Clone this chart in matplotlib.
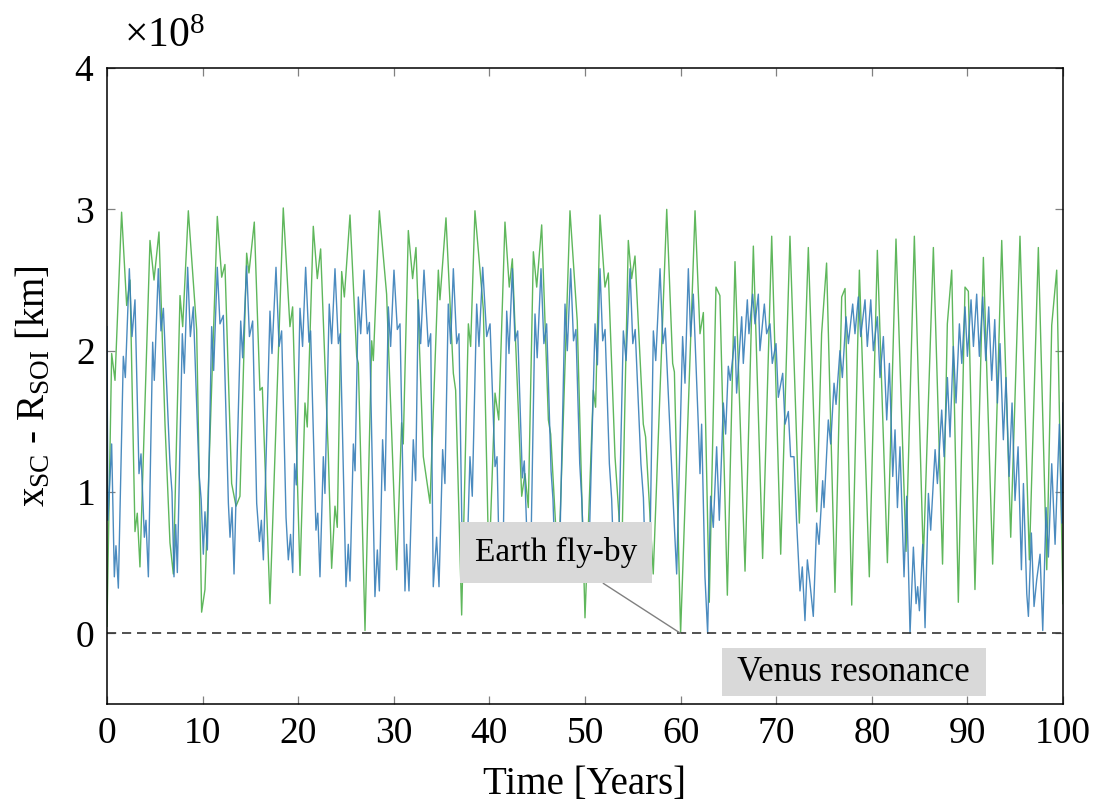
import numpy as np
import matplotlib
matplotlib.use('Agg')
import matplotlib.pyplot as plt
from matplotlib import rcParams
from matplotlib.ticker import ScalarFormatter

# Fonts
rcParams['font.family'] = 'serif'
rcParams['font.serif'] = ['Liberation Serif', 'DejaVu Serif']
rcParams['mathtext.fontset'] = 'custom'
rcParams['mathtext.rm'] = 'Liberation Serif'
rcParams['mathtext.it'] = 'Liberation Serif:italic'
rcParams['font.size'] = 27

# Distance to the SOI boundary, in units of 1e8 km
green_t = [0.0, 0.49, 0.84, 1.53, 2.06, 2.41, 2.93, 3.17, 3.45, 4.50, 4.92, 5.44,
           6.07, 6.59, 6.94, 7.64, 7.92, 8.51, 9.38, 9.90, 10.25, 11.54, 12.00, 12.34,
           13.04, 13.50, 13.91, 14.61, 14.85, 15.41, 16.00, 16.25, 17.05, 18.44, 19.14, 19.42,
           20.19, 20.71, 20.95, 21.58, 22.00, 22.35, 23.15, 23.50, 23.85, 24.09, 24.55, 24.83,
           25.42, 26.12, 26.29, 26.99, 27.69, 27.86, 28.49, 29.25, 30.30, 30.82, 30.99, 31.52,
           31.97, 32.32, 33.09, 33.79, 34.66, 34.83, 35.46, 36.23, 36.47, 37.10, 37.80, 38.04,
           38.49, 39.37, 39.95, 40.59, 40.98, 41.63, 42.08, 42.40, 43.38, 43.72, 44.07, 44.60,
           44.95, 45.47, 46.17, 46.41, 47.21, 48.43, 49.19, 50.00, 50.87, 51.11, 51.57, 52.09,
           52.44, 53.14, 53.84, 54.53, 54.88, 55.23, 56.10, 56.34, 57.14, 58.55, 59.17, 59.35,
           60.00, 61.51, 62.03, 62.38, 63.00, 63.70, 64.11, 64.89, 65.69, 66.74, 67.61, 68.58,
           69.53, 70.47, 71.44, 72.42, 73.36, 74.24, 74.75, 75.27, 76.15, 76.85, 77.20, 77.90,
           78.70, 79.74, 80.58, 81.63, 82.53, 83.58, 84.45, 85.39, 86.44, 87.40, 87.90, 88.36,
           89.05, 89.75, 90.10, 90.79, 91.67, 92.64, 93.59, 94.53, 95.50, 96.48, 97.42, 98.30,
           98.82, 99.34, 100.0]
green_v = [0.05, 1.98, 1.79, 2.98, 2.32, 2.50, 0.72, 0.85, 0.47, 2.78, 2.50, 2.84,
           1.48, 0.64, 0.42, 2.39, 2.17, 2.99, 2.15, 0.15, 0.31, 2.95, 2.52, 2.61,
           1.06, 0.90, 0.97, 2.69, 2.55, 2.91, 1.72, 1.74, 0.21, 3.01, 2.17, 2.31,
           0.41, 1.63, 1.46, 2.88, 2.51, 2.72, 1.27, 0.46, 0.90, 0.75, 2.56, 2.38,
           2.96, 1.96, 1.91, 0.02, 2.07, 1.93, 2.99, 2.40, 0.45, 1.49, 1.34, 2.85,
           2.51, 2.73, 1.25, 0.92, 2.57, 2.36, 2.94, 1.84, 1.72, 0.13, 2.19, 2.03,
           2.99, 2.29, 0.45, 1.70, 1.51, 2.91, 2.45, 2.65, 0.97, 1.13, 0.89, 2.70,
           2.45, 2.89, 1.51, 1.41, 0.42, 2.99, 2.21, 0.11, 1.72, 1.60, 2.96, 2.45,
           2.55, 1.25, 0.54, 2.78, 2.51, 2.67, 1.48, 1.39, 0.42, 3.00, 1.91, 1.85,
           0.00, 2.99, 2.12, 2.27, 0.22, 2.45, 2.39, 0.27, 2.63, 0.44, 2.74, 0.53,
           2.81, 0.56, 2.81, 0.78, 2.73, 0.86, 2.12, 2.62, 0.29, 2.38, 2.44, 0.20,
           2.57, 0.40, 2.71, 0.50, 2.79, 0.58, 2.81, 0.52, 2.73, 0.49, 2.19, 2.57,
           0.22, 2.45, 2.42, 0.31, 2.66, 0.49, 2.78, 0.68, 2.81, 0.52, 2.73, 0.45,
           2.18, 2.57, 0.21]

blue_t = [0.00, 0.10, 0.49, 0.77, 0.94, 1.19, 1.71, 1.92, 2.34, 2.62, 2.93, 3.35,
          3.56, 3.91, 4.08, 4.33, 4.78, 4.95, 5.37, 5.65, 5.90, 6.59, 6.80, 7.01,
          7.19, 7.36, 7.88, 8.09, 8.44, 8.72, 9.03, 9.63, 9.85, 10.08, 10.25, 10.50,
          10.95, 11.16, 11.54, 11.82, 12.17, 12.70, 12.87, 13.08, 13.29, 13.99, 14.19, 14.61,
          14.90, 15.24, 15.66, 15.95, 16.15, 16.36, 17.05, 17.26, 17.68, 18.00, 18.27, 18.73,
          18.97, 19.20, 19.43, 19.62, 19.80, 20.19, 20.46, 20.78, 21.13, 21.30, 21.86, 22.05,
          22.28, 22.63, 22.80, 23.25, 23.50, 23.85, 24.20, 24.40, 25.00, 25.24, 25.42, 25.77,
          25.95, 26.29, 26.54, 26.88, 27.23, 27.45, 28.03, 28.28, 28.49, 28.83, 29.08, 29.43,
          29.67, 30.02, 30.37, 30.65, 31.17, 31.34, 31.59, 32.04, 32.29, 32.56, 32.81, 33.16,
          33.61, 33.86, 34.13, 34.48, 34.73, 35.11, 35.35, 35.70, 35.95, 36.23, 36.58, 36.82,
          37.20, 37.40, 37.60, 37.97, 38.21, 38.67, 38.91, 39.30, 39.72, 40.07, 40.59, 40.80,
          41.05, 41.22, 41.40, 41.81, 42.05, 42.40, 42.68, 42.96, 43.45, 43.65, 44.00, 44.12,
          44.30, 44.77, 45.00, 45.40, 45.70, 45.99, 46.45, 46.65, 46.90, 47.10, 47.30, 47.91,
          48.15, 48.50, 48.80, 49.05, 49.45, 49.66, 49.95, 50.15, 50.35, 51.05, 51.30, 51.57,
          51.85, 52.10, 52.55, 52.79, 53.05, 53.25, 53.45, 54.01, 54.30, 54.71, 55.00, 55.25,
          55.85, 56.11, 56.35, 56.55, 56.75, 57.15, 57.40, 57.85, 58.15, 58.40, 59.07, 59.31,
          59.59, 60.21, 60.46, 60.81, 61.05, 61.33, 61.85, 62.03, 62.20, 62.55, 62.83, 63.14,
          63.42, 63.77, 64.05, 64.47, 64.71, 64.99, 65.20, 65.69, 65.86, 66.39, 66.56, 66.98,
          67.15, 67.54, 67.78, 68.13, 68.30, 68.76, 69.00, 69.35, 69.59, 69.98, 70.22, 70.68,
          70.92, 71.27, 71.51, 71.86, 72.14, 72.31, 72.49, 72.73, 73.01, 73.26, 73.54, 73.88,
          74.23, 74.48, 74.86, 75.00, 75.45, 75.70, 76.05, 76.26, 76.67, 76.92, 77.30, 77.55,
          78.00, 78.24, 78.59, 78.84, 79.29, 79.53, 79.89, 80.16, 80.58, 80.86, 81.21, 81.56,
          81.84, 82.19, 82.43, 82.68, 82.95, 83.37, 83.65, 84.00, 84.35, 84.63, 84.80, 84.98,
          85.33, 85.57, 85.92, 86.16, 86.62, 86.86, 87.31, 87.56, 87.91, 88.18, 88.53, 88.81,
          89.16, 89.41, 89.75, 90.00, 90.38, 90.63, 90.97, 91.25, 91.60, 91.92, 92.23, 92.54,
          92.86, 93.14, 93.41, 93.76, 94.04, 94.36, 94.67, 94.98, 95.30, 95.65, 95.86, 96.21,
          96.38, 96.69, 96.97, 97.25, 97.60, 97.88, 98.23, 98.47, 98.82, 99.17, 99.62, 99.87,
          100.0]
blue_v = [2.17, 0.80, 1.34, 0.40, 0.62, 0.32, 1.96, 1.81, 2.58, 2.10, 2.36, 1.13,
          1.27, 0.68, 0.80, 0.40, 2.06, 1.79, 2.58, 2.14, 2.30, 1.20, 1.00, 0.40,
          0.77, 0.43, 2.12, 1.84, 2.59, 2.10, 2.31, 1.13, 0.95, 0.56, 0.86, 0.59,
          2.17, 1.86, 2.59, 2.19, 2.25, 0.92, 0.68, 0.89, 0.42, 2.21, 1.95, 2.60,
          2.10, 2.21, 0.92, 0.65, 0.80, 0.52, 2.28, 1.98, 2.59, 2.03, 2.14, 0.82,
          0.52, 0.70, 0.43, 1.20, 1.05, 2.30, 2.03, 2.59, 2.06, 2.14, 0.73, 0.85,
          0.40, 1.25, 0.99, 2.33, 2.05, 2.58, 2.05, 2.12, 0.33, 0.63, 0.37, 1.34,
          1.15, 2.38, 2.12, 2.57, 2.12, 2.20, 0.26, 0.59, 0.30, 1.37, 1.01, 2.31,
          2.03, 2.57, 2.15, 2.19, 0.30, 0.63, 0.30, 1.37, 1.08, 2.36, 2.05, 2.57,
          2.03, 2.12, 0.33, 0.68, 0.33, 1.30, 1.06, 2.33, 2.05, 2.58, 2.05, 2.12,
          0.40, 0.65, 0.38, 1.25, 0.97, 2.33, 2.03, 2.59, 2.10, 2.19, 1.18, 1.25,
          0.45, 0.70, 0.42, 2.28, 1.98, 2.58, 2.07, 2.14, 1.10, 1.22, 0.55, 0.68,
          0.42, 2.26, 1.95, 2.58, 2.05, 2.19, 1.15, 0.95, 0.42, 0.66, 0.40, 2.33,
          2.00, 2.58, 2.07, 2.15, 1.20, 0.95, 0.42, 0.66, 0.40, 2.19, 1.90, 2.58,
          2.07, 2.15, 1.20, 0.95, 0.42, 0.66, 0.40, 2.14, 1.93, 2.58, 2.05, 2.15,
          1.20, 0.96, 0.42, 0.66, 0.40, 2.14, 1.93, 2.58, 2.05, 2.16, 1.16, 0.81,
          0.42, 2.10, 1.77, 2.58, 2.10, 2.40, 1.48, 1.13, 1.48, 0.40, 0.00, 0.97,
          0.75, 1.32, 0.80, 1.63, 1.41, 1.89, 1.79, 2.10, 1.70, 2.24, 1.91, 2.36,
          2.12, 2.40, 2.19, 2.40, 2.00, 2.33, 2.12, 2.19, 1.91, 2.05, 1.67, 1.84,
          1.48, 1.57, 1.25, 1.25, 0.78, 0.54, 0.30, 0.47, 0.09, 0.52, 0.35, 0.12,
          0.78, 0.63, 1.08, 0.89, 1.51, 1.34, 1.77, 1.62, 2.00, 1.81, 2.24, 2.05,
          2.33, 2.12, 2.38, 2.10, 2.36, 2.03, 2.36, 2.00, 2.24, 1.81, 2.10, 1.51,
          1.91, 1.11, 1.44, 0.89, 1.32, 0.40, 0.97, 0.00, 0.61, 0.21, 0.33, 0.16,
          0.63, 0.04, 0.99, 0.73, 1.30, 1.06, 1.58, 1.25, 1.81, 1.39, 2.03, 1.63,
          2.19, 1.91, 2.31, 1.96, 2.36, 2.03, 2.40, 1.96, 2.38, 1.93, 2.31, 1.79,
          2.22, 1.63, 2.05, 1.37, 1.81, 1.11, 1.63, 0.94, 1.32, 0.45, 1.06, 0.28,
          0.12, 0.71, 0.19, 0.38, 0.56, 0.02, 0.89, 0.54, 1.20, 0.63, 1.48, 0.78,
          1.63]

# Annotations
flyby_label = 'Earth fly-by'
flyby_xy = (60.0, 0.0)
flyby_text_xy = (46.97, 0.57)
venus_label = 'Venus resonance'
venus_text_xy = (78.14, -0.275)

scale = 1e8
gt = np.array(green_t)
gv = np.array(green_v) * scale
bt = np.array(blue_t)
bv = np.array(blue_v) * scale

fig = plt.figure(figsize=(10.96, 8.08), dpi=100)
ax = fig.add_axes([0.0976, 0.1287, 0.8723, 0.7871])

ax.plot(gt, gv, color='#4daf4a', lw=1.0, alpha=0.9)
ax.plot(bt, bv, color='#377eb8', lw=1.0, alpha=0.9)
ax.axhline(0, color='#333333', lw=1.2, ls=(0, (5.5, 3.5)))

ax.set_xlim(0, 100)
ax.set_ylim(-0.5 * scale, 4 * scale)
ax.set_xticks(np.arange(0, 101, 10))
ax.set_yticks(np.arange(0, 5) * scale)

fmt = ScalarFormatter(useMathText=True)
fmt.set_powerlimits((0, 0))
ax.yaxis.set_major_formatter(fmt)

ax.tick_params(direction='in', length=6, width=0.9, color='#808080',
               top=True, right=True, labelsize=27)
ax.tick_params(axis='x', pad=9)
ax.tick_params(axis='y', pad=9)
for s in ax.spines.values():
    s.set_linewidth(1.1)

# the x10^8 multiplier sits a bit higher than the default
ax.yaxis.OFFSETTEXTPAD = 15
offset = ax.yaxis.get_offset_text()
offset.set_fontsize(30)
offset.set_x(0.018)

ax.set_xlabel('Time [Years]', fontsize=28, labelpad=11)
ax.set_ylabel(r'x$_{\mathrm{SC}}$ - R$_{\mathrm{SOI}}$ [km]', fontsize=28, labelpad=15)

box = dict(boxstyle='square,pad=0.45', facecolor='#d9d9d9', edgecolor='none')
ax.annotate(flyby_label, xy=(flyby_xy[0], flyby_xy[1] * scale),
            xytext=(flyby_text_xy[0], flyby_text_xy[1] * scale),
            ha='center', va='center', fontsize=24, bbox=box,
            arrowprops=dict(arrowstyle='-', color='#808080', lw=1.0,
                            shrinkA=0, shrinkB=0))
ax.text(venus_text_xy[0], venus_text_xy[1] * scale, ' ' + venus_label + ' ',
        ha='center', va='center', fontsize=25,
        bbox=dict(boxstyle='square,pad=0.22', facecolor='#d9d9d9', edgecolor='none'))

fig.savefig('out.png', dpi=100)
